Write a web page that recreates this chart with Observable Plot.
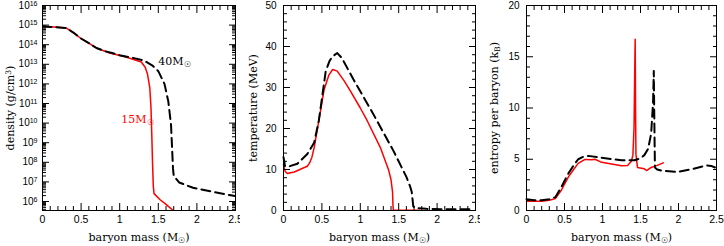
<!DOCTYPE html>
<html>
<head>
<meta charset="utf-8">
<script src="https://cdn.jsdelivr.net/npm/d3@7"></script>
<script src="https://cdn.jsdelivr.net/npm/@observablehq/plot@0.6"></script>
<style>
  body { margin: 0; background: #fff; }
  #row { display: flex; flex-direction: row; width: 724px; height: 246px; }
  svg { display: block; }
</style>
</head>
<body>
<div id="row"></div>
<script>
// ---------- data ----------
// Density panel (log10 of g/cm^3)
const massDens15 = [0, 0.15, 0.31, 0.4, 0.49, 0.6, 0.7, 0.8, 0.87, 0.95, 1.09, 1.2, 1.28, 1.33, 1.36, 1.39, 1.405, 1.415, 1.425, 1.435, 1.445, 1.52, 1.6, 1.72];
const logDens15  = [14.93, 14.90, 14.85, 14.62, 14.34, 14.08, 13.83, 13.68, 13.58, 13.50, 13.36, 13.22, 13.12, 12.85, 12.5, 11.8, 10.8, 9.5, 8.0, 6.8, 6.4, 6.1, 5.85, 5.45];
const massDens40 = [0, 0.15, 0.31, 0.4, 0.49, 0.6, 0.7, 0.8, 0.9, 1.0, 1.17, 1.31, 1.42, 1.50, 1.58, 1.63, 1.665, 1.68, 1.69, 1.70, 1.77, 1.95, 2.2, 2.46, 2.5];
const logDens40  = [14.93, 14.90, 14.85, 14.62, 14.34, 14.08, 13.83, 13.68, 13.58, 13.46, 13.33, 13.2, 12.95, 12.65, 12.0, 11.1, 9.9, 8.6, 7.7, 7.3, 6.97, 6.7, 6.5, 6.3, 6.27];

// Temperature panel (MeV)
const massTemp15 = [0, 0.02, 0.05, 0.14, 0.25, 0.31, 0.34, 0.37, 0.40, 0.46, 0.53, 0.59, 0.64, 0.70, 0.79, 0.87, 1.0, 1.09, 1.26, 1.37, 1.40, 1.42, 1.425, 1.43, 1.6, 1.77];
const temp15     = [11.2, 9.6, 9.0, 9.4, 10.3, 10.8, 11.6, 13.0, 15.4, 21.9, 29.6, 33.0, 34.4, 34.0, 31.6, 29.2, 25.0, 21.9, 15.4, 9.8, 7.5, 4.5, 1.5, 0.1, 0.05, 0.05];
const massTemp40 = [0, 0.02, 0.08, 0.18, 0.31, 0.40, 0.46, 0.55, 0.6, 0.64, 0.70, 0.76, 0.91, 1.17, 1.43, 1.60, 1.65, 1.67, 1.69, 1.72, 1.86, 2.1, 2.42];
const temp40     = [13, 10.8, 10.8, 11.4, 13.8, 16.6, 21.9, 34, 36.5, 37.6, 38.4, 37.2, 32, 23.5, 14.6, 8.2, 5.8, 4.5, 1.0, 0.6, 0.4, 0.3, 0.3];

// Entropy panel (k_B per baryon)
const massEnt15 = [0, 0.2, 0.3, 0.38, 0.46, 0.55, 0.62, 0.68, 0.77, 0.86, 0.90, 0.99, 1.1, 1.25, 1.33, 1.38, 1.40, 1.415, 1.425, 1.43, 1.435, 1.44, 1.46, 1.55, 1.58, 1.64, 1.72, 1.80];
const ent15     = [0.9, 0.9, 1.0, 1.16, 2.0, 3.26, 4.0, 4.6, 4.98, 4.95, 5.0, 4.7, 4.55, 4.36, 4.4, 4.8, 5.4, 8.1, 14, 16.7, 10, 5.5, 4.2, 4.07, 3.9, 4.2, 4.4, 4.65];
const massEnt40 = [0, 0.1, 0.2, 0.3, 0.38, 0.46, 0.55, 0.62, 0.68, 0.75, 0.81, 0.99, 1.25, 1.42, 1.5, 1.55, 1.6, 1.64, 1.665, 1.675, 1.68, 1.685, 1.69, 1.72, 1.77, 1.98, 2.2, 2.37, 2.43, 2.48];
const ent40     = [1.1, 1.0, 1.0, 1.1, 1.3, 2.3, 3.6, 4.4, 5.0, 5.25, 5.33, 5.14, 4.9, 4.9, 5.1, 5.4, 6.0, 7.5, 10.5, 13.6, 10, 7, 4.2, 4.0, 3.9, 3.75, 4.07, 4.4, 4.35, 4.2];

// Tick values
const xMajor = [0, 0.5, 1, 1.5, 2, 2.5];
const xMinor = d3.range(0, 26).map(i => i / 10).filter(v => !xMajor.includes(v));
const densExponents = [6, 7, 8, 9, 10, 11, 12, 13, 14, 15, 16];
const tempMajor = [0, 10, 20, 30, 40, 50];
const entMajor = [0, 5, 10, 15, 20];

// Curve labels (density panel)
const curveLabels = [
  {text: "40M_{☉}", mass: 1.50, logDens: 13.16, color: "black"},
  {text: "15M_{☉}", mass: 1.02, logDens: 10.2, color: "red"}
];

// ---------- helpers ----------
const W = 240, H = 246;
const tickFont = "Liberation Sans, Arial, sans-serif";
const labelFont = "DejaVu Serif, serif";

function rows(xs, ys, f = v => v) { return xs.map((x, i) => ({x, y: f(ys[i])})); }

function frameTicks(yMajorVals, yMinorVals, yFmt, yPad) {
  const none = () => "";
  return [
    Plot.axisX(xMajor, {anchor: "bottom", tickSize: -7, tickFormat: none, label: null}),
    Plot.axisX(xMinor, {anchor: "bottom", tickSize: -4, tickFormat: none, label: null}),
    Plot.axisX(xMajor, {anchor: "top", tickSize: -7, tickFormat: none, label: null}),
    Plot.axisX(xMinor, {anchor: "top", tickSize: -4, tickFormat: none, label: null}),
    Plot.axisY(yMajorVals, {anchor: "left", tickSize: -7, tickFormat: none, label: null}),
    Plot.axisY(yMinorVals, {anchor: "left", tickSize: -4, tickFormat: none, label: null}),
    Plot.axisY(yMajorVals, {anchor: "right", tickSize: -7, tickFormat: none, label: null}),
    Plot.axisY(yMinorVals, {anchor: "right", tickSize: -4, tickFormat: none, label: null}),
    Plot.axisX(xMajor, {anchor: "bottom", tickSize: 0, tickPadding: 5, tickFormat: d => String(d), label: null,
      fontFamily: tickFont, fontSize: 10.5}),
    Plot.axisY(yMajorVals, {anchor: "left", tickSize: 0, tickPadding: yPad, tickFormat: yFmt, label: null,
      fontFamily: tickFont, fontSize: 10})
  ];
}

function axisLabels(ylabel, yOffset) {
  return [
    Plot.text([ylabel], {frameAnchor: "left", text: d => d, rotate: -90, dx: -yOffset,
      textAnchor: "middle", lineAnchor: "middle", fontFamily: labelFont, fontSize: 11, fill: "black"}),
    Plot.text(["baryon mass (M_{☉})"], {frameAnchor: "bottom", text: d => d, dy: 27,
      textAnchor: "middle", lineAnchor: "middle", fontFamily: labelFont, fontSize: 11, fill: "black"})
  ];
}

// rich text: ^{...} superscript, _{...} subscript
function decorate(svg) {
  d3.select(svg).selectAll("text").each(function () {
    const node = this;
    const targets = node.querySelector("tspan") ? Array.from(node.querySelectorAll("tspan")) : [node];
    targets.forEach(el => {
      const s = el.textContent;
      if (!/[\^_]\{/.test(s)) return;
      const parts = s.split(/([\^_]\{[^}]*\})/);
      el.textContent = "";
      parts.forEach(p => {
        if (!p) return;
        const m = p.match(/^([\^_])\{([^}]*)\}$/);
        const ts = document.createElementNS("http://www.w3.org/2000/svg", "tspan");
        if (m) {
          ts.textContent = m[2];
          ts.setAttribute("font-size", "70%");
          ts.setAttribute("baseline-shift", m[1] === "^" ? "38%" : "-22%");
        } else {
          ts.textContent = p;
        }
        el.appendChild(ts);
      });
    });
  });
  return svg;
}

const common = {height: H, marginTop: 5, marginBottom: 36, style: {background: "white", overflow: "visible"}};
const xScale = {domain: [0, 2.5]};

// ---------- Panel 1: density ----------
const densMajor = densExponents.map(e => 10 ** e);
const densMinor = [];
for (let e = 5; e <= 15; e++) for (let k = 2; k <= 9; k++) {
  const v = k * 10 ** e;
  if (v > 10 ** 5.54 && v < 1e16) densMinor.push(v);
}
const p1 = Plot.plot({
  ...common, width: W, marginLeft: 42, marginRight: 5,
  x: xScale,
  y: {type: "log", domain: [10 ** 5.54, 1e16]},
  marks: [
    Plot.line(rows(massDens15, logDens15, v => 10 ** v), {x: "x", y: "y", stroke: "red", strokeWidth: 1.5, clip: true}),
    Plot.line(rows(massDens40, logDens40, v => 10 ** v), {x: "x", y: "y", stroke: "black", strokeWidth: 2, strokeDasharray: "9,5", clip: true}),
    Plot.text(curveLabels, {x: "mass", y: d => 10 ** d.logDens, text: "text", fill: "color", textAnchor: "start",
      fontFamily: labelFont, fontSize: 11}),
    Plot.frame({stroke: "black"}),
    ...frameTicks(densMajor, densMinor, d => "10^{" + Math.round(Math.log10(d)) + "}", 5),
    ...axisLabels("density (g/cm^{3})", 32)
  ]
});

// ---------- Panel 2: temperature ----------
const p2 = Plot.plot({
  ...common, width: W, marginLeft: 43, marginRight: 5,
  x: xScale,
  y: {domain: [0, 50]},
  marks: [
    Plot.line(rows(massTemp15, temp15), {x: "x", y: "y", stroke: "red", strokeWidth: 1.5}),
    Plot.line(rows(massTemp40, temp40), {x: "x", y: "y", stroke: "black", strokeWidth: 2, strokeDasharray: "9,5"}),
    Plot.frame({stroke: "black"}),
    ...frameTicks(tempMajor, d3.range(0, 51, 2).filter(v => v % 10), d => String(d), 7),
    ...axisLabels("temperature (MeV)", 30)
  ]
});

// ---------- Panel 3: entropy ----------
const p3 = Plot.plot({
  ...common, width: 244, marginLeft: 46, marginRight: 8,
  x: xScale,
  y: {domain: [0, 20]},
  marks: [
    Plot.line(rows(massEnt15, ent15), {x: "x", y: "y", stroke: "red", strokeWidth: 1.5}),
    Plot.line(rows(massEnt40, ent40), {x: "x", y: "y", stroke: "black", strokeWidth: 2, strokeDasharray: "9,5"}),
    Plot.frame({stroke: "black"}),
    ...frameTicks(entMajor, d3.range(0, 21).filter(v => v % 5), d => String(d), 7),
    ...axisLabels("entropy per baryon (k_{B})", 32)
  ]
});

const row = document.getElementById("row");
[p1, p2, p3].forEach(p => row.appendChild(decorate(p)));
</script>
</body>
</html>
